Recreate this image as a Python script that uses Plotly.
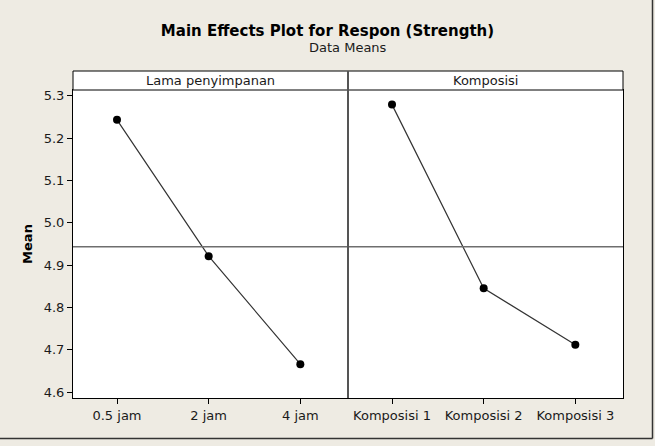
import plotly.graph_objects as go

# ---- data ----
lama_labels = ["0.5 jam", "2 jam", "4 jam"]
lama_means = [5.243, 4.921, 4.666]
komp_labels = ["Komposisi 1", "Komposisi 2", "Komposisi 3"]
komp_means = [5.279, 4.845, 4.712]
y_ticks = [4.6, 4.7, 4.8, 4.9, 5.0, 5.1, 5.2, 5.3]
panel_titles = ["Lama penyimpanan", "Komposisi"]

grand_mean = sum(lama_means) / len(lama_means)

W, H = 655, 446
ML, MR, MT, MB = 73, 32, 71, 48
PW, PH = W - ML - MR, H - MT - MB
strip_h = 19
ydom_top = (PH - strip_h) / PH

FONT = "DejaVu Sans"
BG = "#EEEBE3"

fig = go.Figure()
line_style = dict(color="#333333", width=1.2)
mk = dict(color="black", size=8)
fig.add_trace(go.Scatter(x=lama_labels, y=lama_means, mode="lines+markers",
                         line=line_style, marker=mk, xaxis="x", yaxis="y",
                         showlegend=False))
fig.add_trace(go.Scatter(x=komp_labels, y=komp_means, mode="lines+markers",
                         line=line_style, marker=mk, xaxis="x2", yaxis="y2",
                         showlegend=False))

axis_common = dict(showline=True, mirror=True, linecolor="black", linewidth=1,
                   ticks="outside", ticklen=5, tickcolor="black",
                   showgrid=False, zeroline=False,
                   tickfont=dict(family=FONT, size=13, color="#1a1a1a"))
yr = [4.586, 5.3135]

fig.update_layout(
    width=W, height=H,
    margin=dict(l=ML, r=MR, t=MT, b=MB),
    paper_bgcolor=BG, plot_bgcolor="white",
    xaxis=dict(domain=[0, 0.5], type="category", range=[-0.48, 2.52],
               anchor="y", **axis_common),
    xaxis2=dict(domain=[0.5, 1], type="category", range=[-0.48, 2.52],
                anchor="y2", **axis_common),
    yaxis=dict(domain=[0, ydom_top], range=yr, tickvals=y_ticks,
               tickformat=".1f", anchor="x",
               title=dict(text="<b>Mean</b>", font=dict(family=FONT, size=13, color="black"),
                          standoff=8),
               **axis_common),
    yaxis2=dict(domain=[0, ydom_top], range=yr, anchor="x2", matches="y",
                showticklabels=False, showline=True, mirror=True,
                linecolor="black", linewidth=1, ticks="", showgrid=False,
                zeroline=False),
    title=dict(text="<b>Main Effects Plot for Respon (Strength)</b>",
               font=dict(family=FONT, size=15, color="black"),
               x=0.5, xanchor="center", y=1 - 31 / H, yanchor="middle"),
)

shapes = []
# grand mean lines
for xr, yref in (("x domain", "y"), ("x2 domain", "y2")):
    shapes.append(dict(type="line", xref=xr, yref=yref, x0=0, x1=1,
                       y0=grand_mean, y1=grand_mean,
                       line=dict(color="#6E6E6E", width=1.5)))
# strip
shapes.append(dict(type="rect", xref="paper", yref="paper", x0=0, x1=1,
                   y0=ydom_top, y1=1, fillcolor="white",
                   line=dict(color="black", width=1)))
# divider
shapes.append(dict(type="line", xref="paper", yref="paper", x0=0.5, x1=0.5,
                   y0=0, y1=1, line=dict(color="#555555", width=2)))
# outer frame (right and bottom)
bx = (652.5 - ML) / PW
by = -(438.5 - (H - MB)) / PH
shapes.append(dict(type="line", xref="paper", yref="paper", x0=bx, x1=bx,
                   y0=by, y1=1 + (MT + 5) / PH, line=dict(color="#333333", width=1.5)))
shapes.append(dict(type="line", xref="paper", yref="paper", x0=-(ML + 5) / PW, x1=bx,
                   y0=by, y1=by, line=dict(color="#333333", width=1.5)))
fig.update_layout(shapes=shapes)

ann = [
    dict(text="Data Means", xref="paper", yref="paper", x=0.5,
         y=1 + (MT - 47) / PH, xanchor="center", yanchor="middle",
         showarrow=False, font=dict(family=FONT, size=13, color="#1a1a1a")),
]
for i, t in enumerate(panel_titles):
    ann.append(dict(text=t, xref="paper", yref="paper", x=0.25 + 0.5 * i,
                    y=(ydom_top + 1) / 2, xanchor="center", yanchor="middle",
                    showarrow=False, font=dict(family=FONT, size=13, color="#1a1a1a")))
fig.update_layout(annotations=ann)

fig.write_html("out.html")
